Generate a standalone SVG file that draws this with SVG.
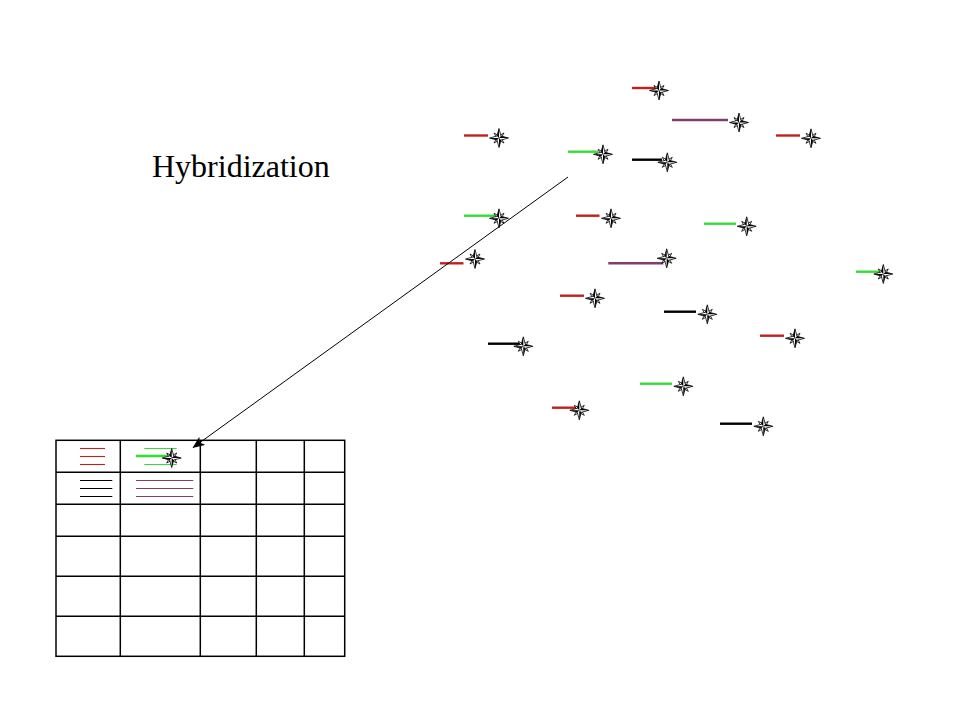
<svg xmlns="http://www.w3.org/2000/svg" xmlns:xlink="http://www.w3.org/1999/xlink" width="960" height="720" viewBox="0 0 960 720">
<style>
.r{stroke:#c41e1e;stroke-width:2.4}
.g{stroke:#33dd33;stroke-width:2.4}
.p{stroke:#7f3f6a;stroke-width:2.4}
.k{stroke:#000;stroke-width:2.4}
.thin{stroke-width:1.1}
.grid{stroke:#000;stroke-width:1.5;fill:none}
.title{font-family:"Liberation Serif","Times New Roman",serif;font-size:32px;fill:#000}
</style>
<defs>
<g id="star">
<polygon points="0,-2.2 5,-5 2.2,0 5,5 0,2.2 -5,5 -2.2,0 -5,-5" fill="#fff" stroke="#000" stroke-width="0.8"/>
<polygon points="0,-9.5 2,-2 9.5,0 2,2 0,9.5 -2,2 -9.5,0 -2,-2" fill="#fff" stroke="#000" stroke-width="0.8"/>
<polygon points="0,-9.5 0,0 -2,-2" fill="#000"/>
<polygon points="9.5,0 0,0 2,-2" fill="#000"/>
<polygon points="0,9.5 0,0 2,2" fill="#000"/>
<polygon points="-9.5,0 0,0 -2,2" fill="#000"/>
</g>
<marker id="ah" markerWidth="12" markerHeight="10" refX="11" refY="5" orient="auto" markerUnits="userSpaceOnUse">
<polygon points="0,0 12,5 0,10 3,5" fill="#000"/>
</marker>
</defs>
<rect width="960" height="720" fill="#fff"/>

<g id="title"><text class="title" x="152" y="177">Hybridization</text></g>

<g id="probes">
<g id="p1"><line class="r" x1="632" y1="88" x2="656" y2="88"/><use xlink:href="#star" x="659" y="90.5"/></g>
<g id="p2"><line class="p" x1="672" y1="120" x2="728" y2="120"/><use xlink:href="#star" x="739" y="122.5"/></g>
<g id="p3"><line class="r" x1="464" y1="135.5" x2="488" y2="135.5"/><use xlink:href="#star" x="499" y="138"/></g>
<g id="p4"><line class="r" x1="776" y1="135.5" x2="800" y2="135.5"/><use xlink:href="#star" x="811" y="138.3"/></g>
<g id="p5"><line class="g" x1="568" y1="151.7" x2="598" y2="151.7"/><use xlink:href="#star" x="603" y="154.3"/></g>
<g id="p6"><line class="k" x1="632" y1="159.7" x2="662" y2="159.7"/><use xlink:href="#star" x="667.3" y="162.3"/></g>
<g id="p7"><line class="g" x1="464" y1="215.7" x2="495" y2="215.7"/><use xlink:href="#star" x="499" y="218.3"/></g>
<g id="p8"><line class="r" x1="576" y1="215.7" x2="599.5" y2="215.7"/><use xlink:href="#star" x="611" y="218.3"/></g>
<g id="p9"><line class="g" x1="704" y1="223.7" x2="736" y2="223.7"/><use xlink:href="#star" x="746.7" y="226.3"/></g>
<g id="p10"><line class="r" x1="440" y1="263.3" x2="463.5" y2="263.3"/><use xlink:href="#star" x="475" y="259"/></g>
<g id="p11"><line class="p" x1="608.3" y1="263.3" x2="663.3" y2="263.3"/><use xlink:href="#star" x="666.7" y="258.3"/></g>
<g id="p12"><line class="g" x1="856" y1="271.7" x2="880" y2="271.7"/><use xlink:href="#star" x="883.3" y="274"/></g>
<g id="p13"><line class="r" x1="560" y1="295.7" x2="584" y2="295.7"/><use xlink:href="#star" x="595" y="298.3"/></g>
<g id="p14"><line class="k" x1="664" y1="311.7" x2="696" y2="311.7"/><use xlink:href="#star" x="707.3" y="314.3"/></g>
<g id="p15"><line class="r" x1="760" y1="335.7" x2="784" y2="335.7"/><use xlink:href="#star" x="795" y="338.3"/></g>
<g id="p16"><line class="k" x1="488" y1="343.7" x2="520" y2="343.7"/><use xlink:href="#star" x="523.3" y="346.3"/></g>
<g id="p17"><line class="g" x1="640" y1="383.7" x2="672" y2="383.7"/><use xlink:href="#star" x="683.3" y="386.3"/></g>
<g id="p18"><line class="r" x1="552" y1="407.7" x2="577" y2="407.7"/><use xlink:href="#star" x="579.3" y="410.3"/></g>
<g id="p19"><line class="k" x1="720" y1="423.7" x2="752" y2="423.7"/><use xlink:href="#star" x="763.3" y="426.3"/></g>
</g>

<g id="array">
<rect class="grid" x="56" y="440.3" width="288.7" height="216"/>
<line class="grid" x1="120.3" y1="440.3" x2="120.3" y2="656.3"/>
<line class="grid" x1="200.3" y1="440.3" x2="200.3" y2="656.3"/>
<line class="grid" x1="256.3" y1="440.3" x2="256.3" y2="656.3"/>
<line class="grid" x1="304.3" y1="440.3" x2="304.3" y2="656.3"/>
<line class="grid" x1="56" y1="472.3" x2="344.7" y2="472.3"/>
<line class="grid" x1="56" y1="504.3" x2="344.7" y2="504.3"/>
<line class="grid" x1="56" y1="536.3" x2="344.7" y2="536.3"/>
<line class="grid" x1="56" y1="576.3" x2="344.7" y2="576.3"/>
<line class="grid" x1="56" y1="616.3" x2="344.7" y2="616.3"/>
<g id="cell-red">
<line class="r thin" x1="80" y1="448.5" x2="105" y2="448.5"/>
<line class="r thin" x1="80" y1="456.5" x2="105" y2="456.5"/>
<line class="r thin" x1="80" y1="464.5" x2="105" y2="464.5"/>
</g>
<g id="cell-green">
<line class="g thin" x1="144.3" y1="448.5" x2="176.7" y2="448.5"/>
<line class="g thin" x1="144.3" y1="464.5" x2="176.7" y2="464.5"/>
<line class="g" x1="136" y1="456" x2="168" y2="456" style="stroke-width:2.6"/>
<use xlink:href="#star" x="171.7" y="458"/>
</g>
<g id="cell-black">
<line class="k thin" x1="80" y1="480.5" x2="112.3" y2="480.5"/>
<line class="k thin" x1="80" y1="488.5" x2="112.3" y2="488.5"/>
<line class="k thin" x1="80" y1="496.5" x2="112.3" y2="496.5"/>
</g>
<g id="cell-purple">
<line class="p thin" x1="136" y1="480.5" x2="193.3" y2="480.5"/>
<line class="p thin" x1="136" y1="488.5" x2="193.3" y2="488.5"/>
<line class="p thin" x1="136" y1="496.5" x2="193.3" y2="496.5"/>
</g>
</g>

<g id="connectors">
<line x1="568" y1="177" x2="193.3" y2="447.3" stroke="#000" stroke-width="1" marker-end="url(#ah)"/>
</g>
</svg>
